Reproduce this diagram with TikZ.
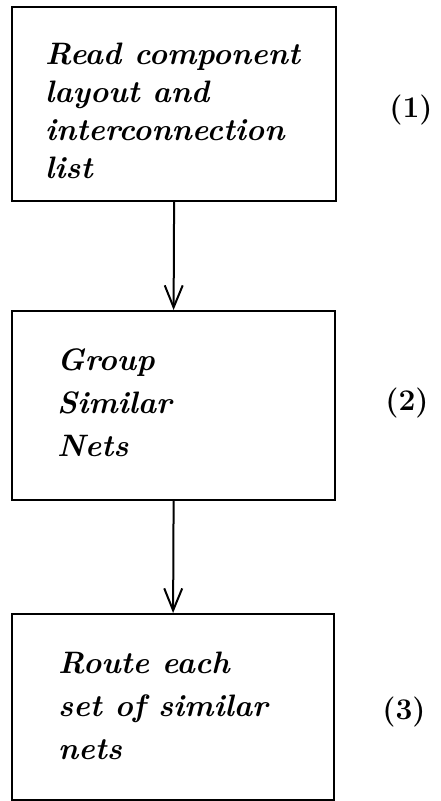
\documentclass[tikz,border=0pt]{standalone}
\usetikzlibrary{arrows.meta}
\begin{document}
\begin{tikzpicture}[x=1pt,y=-1pt,
  stepbox/.style={draw, line width=2.2pt, rectangle, inner sep=0pt, anchor=north west},
  hand/.style={font=\bfseries\itshape\fontsize{31}{38}\selectfont, align=left, anchor=north west, inner sep=0pt},
  handwide/.style={hand, font=\bfseries\itshape\fontsize{31}{43}\selectfont},
  tag/.style={font=\bfseries\fontsize{30}{32}\selectfont, inner sep=0pt},
  flow/.style={line width=2pt, -{Straight Barb[length=22pt,width=18pt,line width=2pt]}}]
\useasboundingbox (0,0) rectangle (441,801);

% process steps
\node[stepbox, minimum width=324pt, minimum height=194pt] (b1) at (11,6) {};
\node[stepbox, minimum width=323pt, minimum height=189pt] (b2) at (11,310) {};
\node[stepbox, minimum width=322pt, minimum height=186pt] (b3) at (11,613) {};

% step texts
\node[hand] (t1) at (45,43) {Read component\\layout and\\interconnection\\list};
\node[handwide] (t2) at (57,348) {Group\\Similar\\Nets};
\node[handwide] (t3) at (58,652) {Route each\\set of similar\\nets};

% step numbers
\node[tag] (n1) at (411,110) {(1)};
\node[tag] (n2) at (407,403) {(2)};
\node[tag] (n3) at (404,712) {(3)};

% flow
\draw[flow] (b1.south) -- (b2.north);
\draw[flow] (b2.south) -- (b3.north);
\end{tikzpicture}
\end{document}
